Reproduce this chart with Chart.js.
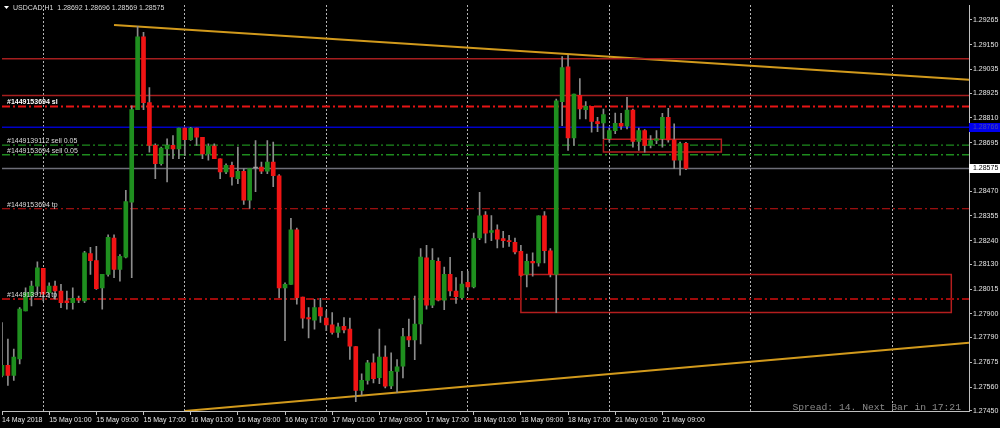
<!DOCTYPE html>
<html>
<head>
<meta charset="utf-8">
<title>USDCAD,H1</title>
<script src="https://cdn.jsdelivr.net/npm/chart.js@4.4.1/dist/chart.umd.min.js"></script>
<style>
  html, body { margin: 0; padding: 0; background: #000; }
  #wrap { width: 1000px; height: 428px; }
</style>
</head>
<body>
<div id="wrap"><canvas id="chart" width="1000" height="428"></canvas></div>
<script>
// H1 bars from 14 May 17:00 to 21 May 13:00
const opens = [
  1.27614, 1.27661, 1.27614, 1.27691, 1.27914, 1.27983, 1.28029, 1.28111, 1.27998, 1.28029,
  1.28006, 1.27960, 1.27952, 1.27972, 1.27960, 1.28180, 1.28147, 1.28021, 1.28083, 1.28252,
  1.28106, 1.28163, 1.28418, 1.28848, 1.29186, 1.28881, 1.28682, 1.28597, 1.28666, 1.28682,
  1.28666, 1.28762, 1.28709, 1.28762, 1.28720, 1.28643, 1.28679, 1.28620, 1.28559, 1.28590,
  1.28528, 1.28562, 1.28428, 1.28577, 1.28582, 1.28562, 1.28605, 1.28541, 1.28021, 1.28037,
  1.28290, 1.27978, 1.27883, 1.27871, 1.27929, 1.27880, 1.27849, 1.27814, 1.27842, 1.27829,
  1.27748, 1.27545, 1.27591, 1.27673, 1.27604, 1.27699, 1.27565, 1.27633, 1.27657, 1.27794,
  1.27779, 1.27853, 1.28160, 1.27940, 1.28144, 1.27963, 1.28083, 1.28006, 1.27975, 1.28046,
  1.28025, 1.28252, 1.28359, 1.28278, 1.28290, 1.28249, 1.28240, 1.28232, 1.28190, 1.28083,
  1.28144, 1.28137, 1.28355, 1.28193, 1.28083, 1.28885, 1.29047, 1.28717, 1.28915, 1.28848,
  1.28863, 1.28793, 1.28786, 1.28713, 1.28751, 1.28785, 1.28771, 1.28846, 1.28700, 1.28751,
  1.28682, 1.28705, 1.28713, 1.28812, 1.28708, 1.28613, 1.28692
];
const highs = [
  1.27860, 1.27783, 1.27737, 1.27929, 1.28021, 1.28052, 1.28141, 1.28111, 1.28044, 1.28052,
  1.28037, 1.28006, 1.28021, 1.27983, 1.28190, 1.28209, 1.28213, 1.28083, 1.28267, 1.28267,
  1.28175, 1.28474, 1.28866, 1.29235, 1.29207, 1.28951, 1.28689, 1.28674, 1.28713, 1.28728,
  1.28762, 1.28762, 1.28766, 1.28762, 1.28720, 1.28689, 1.28689, 1.28620, 1.28597, 1.28605,
  1.28674, 1.28574, 1.28574, 1.28705, 1.28605, 1.28705, 1.28697, 1.28547, 1.28044, 1.28344,
  1.28298, 1.27978, 1.27929, 1.27968, 1.27972, 1.27914, 1.27906, 1.27857, 1.27883, 1.27880,
  1.27748, 1.27622, 1.27684, 1.27714, 1.27829, 1.27751, 1.27719, 1.27688, 1.27833, 1.27876,
  1.27983, 1.28203, 1.28218, 1.28203, 1.28160, 1.28117, 1.28163, 1.28068, 1.28098, 1.28098,
  1.28275, 1.28464, 1.28375, 1.28356, 1.28313, 1.28283, 1.28264, 1.28252, 1.28218, 1.28178,
  1.28183, 1.28355, 1.28375, 1.28203, 1.28897, 1.29094, 1.29100, 1.28920, 1.28992, 1.28886,
  1.28863, 1.28812, 1.28851, 1.28762, 1.28832, 1.28831, 1.28905, 1.28851, 1.28762, 1.28756,
  1.28728, 1.28751, 1.28831, 1.28854, 1.28782, 1.28697, 1.28696
];
const lows = [
  1.27607, 1.27568, 1.27591, 1.27668, 1.27914, 1.27937, 1.27991, 1.27960, 1.27975, 1.27968,
  1.27929, 1.27922, 1.27922, 1.27952, 1.27952, 1.28083, 1.28014, 1.27922, 1.28075, 1.28068,
  1.28052, 1.28160, 1.28068, 1.28848, 1.28848, 1.28651, 1.28528, 1.28590, 1.28513, 1.28620,
  1.28620, 1.28636, 1.28705, 1.28682, 1.28620, 1.28613, 1.28620, 1.28528, 1.28551, 1.28498,
  1.28505, 1.28408, 1.28390, 1.28467, 1.28551, 1.28551, 1.28490, 1.27975, 1.27776, 1.28037,
  1.27945, 1.27834, 1.27788, 1.27829, 1.27860, 1.27822, 1.27806, 1.27791, 1.27811, 1.27688,
  1.27492, 1.27522, 1.27573, 1.27579, 1.27576, 1.27556, 1.27553, 1.27535, 1.27602, 1.27748,
  1.27687, 1.27760, 1.27922, 1.27929, 1.27960, 1.27919, 1.27983, 1.27948, 1.27968, 1.28006,
  1.28021, 1.28244, 1.28229, 1.28240, 1.28206, 1.28209, 1.28213, 1.28178, 1.28075, 1.28025,
  1.28075, 1.28121, 1.28137, 1.28071, 1.27906, 1.28774, 1.28659, 1.28682, 1.28805, 1.28805,
  1.28743, 1.28746, 1.28713, 1.28697, 1.28736, 1.28756, 1.28759, 1.28674, 1.28659, 1.28651,
  1.28670, 1.28690, 1.28674, 1.28697, 1.28574, 1.28544, 1.28569
];
const closes = [
  1.27661, 1.27614, 1.27699, 1.27922, 1.27998, 1.28029, 1.28114, 1.27991, 1.28029, 1.28006,
  1.27952, 1.27952, 1.27972, 1.27963, 1.28183, 1.28147, 1.28017, 1.28083, 1.28255, 1.28106,
  1.28167, 1.28421, 1.28848, 1.29186, 1.28881, 1.28682, 1.28597, 1.28670, 1.28682, 1.28666,
  1.28762, 1.28709, 1.28762, 1.28720, 1.28643, 1.28679, 1.28620, 1.28559, 1.28590, 1.28536,
  1.28562, 1.28428, 1.28574, 1.28577, 1.28562, 1.28605, 1.28541, 1.28021, 1.28037, 1.28290,
  1.27975, 1.27880, 1.27876, 1.27929, 1.27891, 1.27849, 1.27814, 1.27840, 1.27826, 1.27750,
  1.27545, 1.27591, 1.27673, 1.27599, 1.27699, 1.27564, 1.27633, 1.27654, 1.27794, 1.27779,
  1.27853, 1.28164, 1.27940, 1.28149, 1.27963, 1.28083, 1.28006, 1.27980, 1.28038, 1.28025,
  1.28249, 1.28355, 1.28275, 1.28287, 1.28247, 1.28240, 1.28235, 1.28187, 1.28078, 1.28144,
  1.28137, 1.28355, 1.28193, 1.28083, 1.28889, 1.29043, 1.28717, 1.28920, 1.28851, 1.28863,
  1.28793, 1.28783, 1.28825, 1.28751, 1.28785, 1.28771, 1.28846, 1.28700, 1.28751, 1.28682,
  1.28705, 1.28713, 1.28812, 1.28708, 1.28613, 1.28690, 1.28575
];

// axis labels
const tickLabels = ['14 May 2018', '15 May 01:00', '15 May 09:00', '15 May 17:00', '16 May 01:00',
  '16 May 09:00', '16 May 17:00', '17 May 01:00', '17 May 09:00', '17 May 17:00', '18 May 01:00',
  '18 May 09:00', '18 May 17:00', '21 May 01:00', '21 May 09:00'];
const priceTicks = [1.29265, 1.29150, 1.29035, 1.28925, 1.28810, 1.28695, 1.28470, 1.28355,
  1.28240, 1.28130, 1.28015, 1.27900, 1.27790, 1.27675, 1.27560, 1.27450];

// horizontal levels / order lines
const levelPrices = [1.29084, 1.28914];
const slPrice = 1.28863;
const bluePrice = 1.28766;
const sellPrices = [1.28683, 1.28639];
const bidPrice = 1.28575;
const tpPrices = [1.28388, 1.27969];

// trend lines (bar index, price)
const upperTrendX = [19, 164];
const upperTrendY = [1.29241, 1.28987];
const lowerTrendX = [31, 164];
const lowerTrendY = [1.27449, 1.27766];

// rectangles (bar index from/to, price low/high)
const rectX = [[88, 161], [102, 122]];
const rectY = [[1.27906, 1.28083], [1.28651, 1.28711]];

const orderTags = ['#1449153694 sl', '#1449139112 sell 0.05', '#1449153694 sell 0.05',
  '#1449153694 tp', '#1449139112 tp'];
const orderTagPrices = [slPrice, sellPrices[0], sellPrices[1], tpPrices[0], tpPrices[1]];

// hourly slots, weekend skipped, chart shift leaves empty bars on the right
function hourSlots(count) {
    const out = [];
    let t = Date.UTC(2018, 4, 14, 17);
    while (out.length < count) {
        const d = new Date(t);
        const wd = d.getUTCDay();
        if (wd !== 0 && wd !== 6) {
            out.push(d.getUTCDate() + ' May ' + String(d.getUTCHours()).padStart(2, '0') + ':00');
        }
        t += 3600000;
    }
    return out;
}
const slots = hourSlots(165);
const last = slots.length - 1;

function seg(i0, i1, p0, p1) {
    return [{ x: slots[i0], y: p0 }, { x: slots[i1], y: p1 }];
}
function box(xs, ys) {
    return [
        { x: slots[xs[0]], y: ys[1] }, { x: slots[xs[1]], y: ys[1] },
        { x: slots[xs[1]], y: ys[0] }, { x: slots[xs[0]], y: ys[0] },
        { x: slots[xs[0]], y: ys[1] }
    ];
}
function lineSet(data, color, width, dash) {
    return {
        type: 'line', data, borderColor: color, borderWidth: width,
        borderDash: dash || [], pointRadius: 0, fill: false, tension: 0, order: 3
    };
}

const UP = '#1f8f1f', DOWN = '#f01414', DOJI = '#a0a0a0';
const bodyColors = opens.map((o, i) => closes[i] > o ? UP : (closes[i] < o ? DOWN : DOJI));
const DASHDOT = [8, 3, 2, 3];

Chart.defaults.font.family = "'Liberation Sans', Arial, sans-serif";
Chart.defaults.font.size = 7;

const overlay = {
    id: 'mtOverlay',
    beforeDraw(chart) {
        const ctx = chart.ctx;
        ctx.save();
        ctx.fillStyle = '#000';
        ctx.fillRect(0, 0, chart.width, chart.height);
        ctx.restore();
    },
    afterDatasetsDraw(chart) {
        const ctx = chart.ctx;
        const y = chart.scales.y;
        ctx.save();
        ctx.font = "7px 'Liberation Sans', Arial, sans-serif";
        ctx.textBaseline = 'middle';
        ctx.textAlign = 'left';
        ctx.fillStyle = '#dcdcdc';
        orderTags.forEach((tag, i) => {
            const py = y.getPixelForValue(orderTagPrices[i]) - 4;
            if (i === 0) {
                ctx.font = "bold 7px 'Liberation Sans', Arial, sans-serif";
                ctx.fillStyle = '#ffffff';
            } else {
                ctx.font = "7px 'Liberation Sans', Arial, sans-serif";
                ctx.fillStyle = '#dcdcdc';
            }
            ctx.fillText(tag, 7, py);
        });

        // symbol header
        ctx.fillStyle = '#ffffff';
        ctx.beginPath();
        ctx.moveTo(4, 6);
        ctx.lineTo(9, 6);
        ctx.lineTo(6.5, 9);
        ctx.closePath();
        ctx.fill();
        const n = opens.length - 1;
        ctx.font = "7px 'Liberation Sans', Arial, sans-serif";
        ctx.fillStyle = '#dcdcdc';
        ctx.fillText('USDCAD,H1  ' + [opens[n], highs[n], lows[n], closes[n]].map(v => v.toFixed(5)).join(' '), 13, 8);

        ctx.font = "9.7px 'Liberation Mono', 'Courier New', monospace";
        ctx.fillStyle = '#8a8a8a';
        ctx.textAlign = 'right';
        ctx.fillText('Spread: 14. Next Bar in 17:21', 961, 407);
        ctx.restore();
    },
    afterDraw(chart) {
        const ctx = chart.ctx;
        const y = chart.scales.y;
        const x0 = chart.chartArea.right;
        ctx.save();
        ctx.font = "7px 'Liberation Sans', Arial, sans-serif";
        ctx.textBaseline = 'middle';
        ctx.textAlign = 'left';
        let py = Math.round(y.getPixelForValue(bluePrice));
        ctx.fillStyle = '#0000f0';
        ctx.fillRect(x0, py - 4, chart.width - x0, 9);
        ctx.fillStyle = '#4a4aa8';
        ctx.fillText(bluePrice.toFixed(5), x0 + 4, py + 0.5);
        py = Math.round(y.getPixelForValue(bidPrice));
        ctx.fillStyle = '#ffffff';
        ctx.fillRect(x0, py - 4, chart.width - x0, 9);
        ctx.fillStyle = '#000000';
        ctx.fillText(bidPrice.toFixed(5), x0 + 4, py + 0.5);
        ctx.restore();
    }
};

const datasets = [
    {
        type: 'bar', data: opens.map((o, i) => [o, closes[i]]),
        backgroundColor: bodyColors, barThickness: 4, minBarLength: 1,
        grouped: false, borderWidth: 0, order: 0
    },
    {
        type: 'bar', data: lows.map((l, i) => [l, highs[i]]),
        backgroundColor: '#8c8c8c', barThickness: 1,
        grouped: false, borderWidth: 0, order: 1
    },
    lineSet(seg(0, last, levelPrices[0], levelPrices[0]), '#a51e1e', 1.5),
    lineSet(seg(0, last, levelPrices[1], levelPrices[1]), '#a51e1e', 1.5),
    lineSet(seg(0, last, slPrice, slPrice), '#e61414', 2, DASHDOT),
    lineSet(seg(0, last, bluePrice, bluePrice), '#0000c8', 1.5),
    lineSet(seg(0, last, sellPrices[0], sellPrices[0]), '#1e8c1e', 1.2, DASHDOT),
    lineSet(seg(0, last, sellPrices[1], sellPrices[1]), '#1e8c1e', 1.5, DASHDOT),
    lineSet(seg(0, last, bidPrice, bidPrice), '#6e6e78', 1.5),
    lineSet(seg(0, last, tpPrices[0], tpPrices[0]), '#c81414', 1, DASHDOT),
    lineSet(seg(0, last, tpPrices[1], tpPrices[1]), '#a00a0a', 2, DASHDOT),
    lineSet(seg(upperTrendX[0], upperTrendX[1], upperTrendY[0], upperTrendY[1]), '#d29a1c', 2),
    lineSet(seg(lowerTrendX[0], lowerTrendX[1], lowerTrendY[0], lowerTrendY[1]), '#d29a1c', 2),
    lineSet(box(rectX[0], rectY[0]), '#b41e1e', 1.5),
    lineSet(box(rectX[1], rectY[1]), '#b41e1e', 1.5)
];

new Chart(document.getElementById('chart'), {
    type: 'bar',
    data: { labels: slots, datasets },
    options: {
        responsive: false,
        animation: false,
        devicePixelRatio: 1,
        layout: { padding: { top: 2, left: 2, right: 0, bottom: 0 } },
        plugins: { legend: { display: false }, tooltip: { enabled: false } },
        scales: {
            x: {
                type: 'category',
                position: 'bottom',
                offset: false,
                grid: { offset: false, drawOnChartArea: false, drawTicks: true, tickLength: 4, color: '#c0c0c0' },
                border: { display: true, color: '#c0c0c0', width: 1 },
                ticks: {
                    color: '#e6e6e6', font: { size: 7 }, align: 'start', maxRotation: 0,
                    autoSkip: false, padding: 1,
                    callback: (value) => tickLabels[value / 8]
                },
                afterBuildTicks: (s) => {
                    s.ticks = s.ticks.filter(t => t.value % 8 === 0 && t.value / 8 < tickLabels.length);
                },
                afterFit: (s) => { s.height = 17; }
            },
            xg: {
                type: 'category',
                position: 'top',
                offset: false,
                grid: { offset: false, drawTicks: false, color: '#b4b4b4', lineWidth: 1 },
                border: { display: false, dash: [2, 2] },
                ticks: { display: false },
                afterBuildTicks: (s) => {
                    s.ticks = s.ticks.filter(t => (t.value - 7) % 24 === 0);
                },
                afterFit: (s) => { s.height = 0; }
            },
            y: {
                type: 'linear',
                position: 'right',
                min: 1.27449,
                max: 1.29333,
                grid: { drawOnChartArea: false, drawTicks: true, tickLength: 3, color: '#c0c0c0' },
                border: { display: true, color: '#c0c0c0', width: 1 },
                ticks: {
                    color: '#e6e6e6', font: { size: 7 }, padding: 1,
                    callback: (v) => v.toFixed(5)
                },
                afterBuildTicks: (s) => {
                    s.ticks = priceTicks.map(v => ({ value: v }));
                },
                afterFit: (s) => { s.width = 31; }
            }
        }
    },
    plugins: [overlay]
});
</script>
</body>
</html>
